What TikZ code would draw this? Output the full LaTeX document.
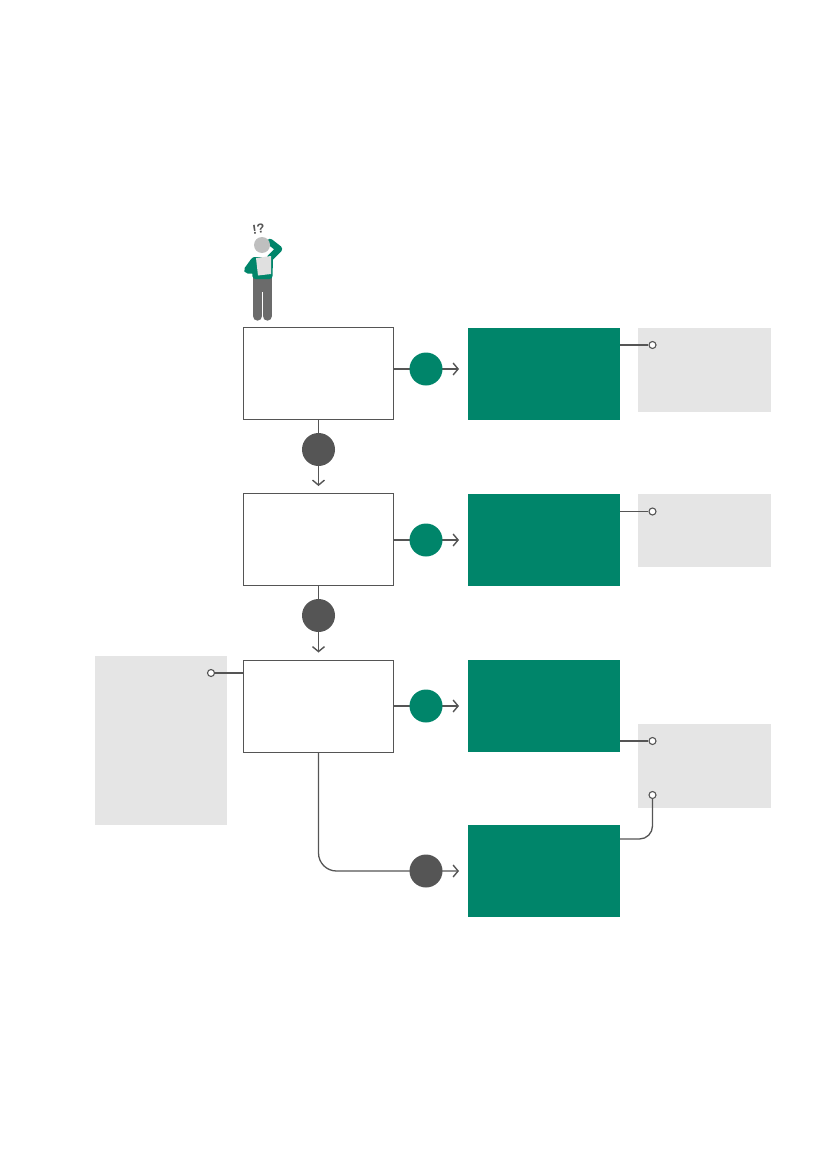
\documentclass[tikz,border=0pt]{standalone}
\usepackage{fontspec}
\setmainfont{Liberation Sans}
\usetikzlibrary{arrows.meta,positioning}
\definecolor{leafgreen}{HTML}{00856A}
\definecolor{slate}{HTML}{555555}
\definecolor{panelgrey}{HTML}{E5E5E5}
\tikzset{
	whitebox/.style={draw=slate,line width=1.4pt,fill=white,minimum width=150.5pt,minimum height=92pt,inner sep=0pt,outer sep=0pt},
	greenbox/.style={fill=leafgreen,minimum width=152pt,minimum height=92pt,inner sep=0pt,outer sep=0pt},
	greypanel/.style={fill=panelgrey,inner sep=0pt,outer sep=0pt},
	greenround/.style={circle,fill=leafgreen,minimum size=33pt,inner sep=0pt},
	darkround/.style={circle,fill=slate,minimum size=33pt,inner sep=0pt},
	dot/.style={circle,draw=slate,line width=1.1pt,fill=white,minimum size=7pt,inner sep=0pt},
	flow/.style={draw=slate,line width=1.3pt,-{Straight Barb[length=5pt,width=12pt,line width=1.4pt]}},
	link/.style={draw=slate,line width=1.3pt}
}
\begin{document}
\begin{tikzpicture}[x=1pt,y=-1pt]
	\useasboundingbox (0,0) rectangle (827,1169);

	% panels
	\node[greypanel,minimum width=133pt,minimum height=84pt] (noteA) at (704.5,369.5) {};
	\node[greypanel,minimum width=133pt,minimum height=73pt] (noteB) at (704.5,530) {};
	\node[greypanel,minimum width=133pt,minimum height=84pt] (noteC) at (704.5,765.5) {};
	\node[greypanel,minimum width=132pt,minimum height=169pt] (noteD) at (161,740.5) {};

	% boxes
	\node[whitebox] (askA) at (318.5,373.2) {};
	\node[whitebox] (askB) at (318.5,539.7) {};
	\node[whitebox] (askC) at (318.5,706.2) {};
	\node[greenbox] (endA) at (544,373.5) {};
	\node[greenbox] (endB) at (544,540) {};
	\node[greenbox] (endC) at (544,706) {};
	\node[greenbox] (endD) at (544,871) {};

	% free ends
	\coordinate (tipA) at (459,369);
	\coordinate (tipB) at (459,540);
	\coordinate (tipC) at (459,706);
	\coordinate (tipD) at (459,871);
	\coordinate (tipE) at (318.5,486);
	\coordinate (tipF) at (318.5,652.5);

	% connectors
	\draw[flow] (askA.east |- tipA) -- (tipA);
	\draw[flow] (askB.east |- tipB) -- (tipB);
	\draw[flow] (askC.east |- tipC) -- (tipC);
	\draw[flow] (askA.south) -- (tipE);
	\draw[flow] (askB.south) -- (tipF);
	\draw[flow,rounded corners=18pt] (askC.south) |- (tipD);

	% rounds
	\node[greenround] (yesA) at (426,369) {};
	\node[greenround] (yesB) at (426,540) {};
	\node[greenround] (yesC) at (426,706) {};
	\node[darkround] (yesD) at (426,871) {};
	\node[darkround] (noA) at (318.5,449.5) {};
	\node[darkround] (noB) at (318.5,615.5) {};

	% notes
	\node[dot] (dotA) at (652.5,345) {};
	\node[dot] (dotB) at (652.5,511.5) {};
	\node[dot] (dotC) at (652.5,741) {};
	\node[dot] (dotD) at (652.5,795) {};
	\node[dot] (dotE) at (211,673) {};
	\draw[link] (endA.east |- dotA) -- (dotA);
	\draw[link] (endB.east |- dotB) -- (dotB);
	\draw[link] (endC.east |- dotC) -- (dotC);
	\draw[link] (askC.west |- dotE) -- (dotE);
	\coordinate (bendD) at (620,839);
	\draw[link,rounded corners=13pt] (bendD) -| (dotD);

	% person
	\fill[black!58] (252.8,275) rectangle (272,292);
	\draw[line width=9.4pt,line cap=round,draw=black!58] (257.5,285) -- (257.5,316);
	\draw[line width=9.4pt,line cap=round,draw=black!58] (267.3,285) -- (267.3,316);
	\fill[leafgreen,rounded corners=3pt] (251.5,257) -- (273,257) -- (272.5,279) -- (252.5,279) -- cycle;
	\draw[leafgreen,line width=6.5pt,line cap=round,line join=round] (270,258) -- (279,249) -- (270,242);
	\draw[leafgreen,line width=7pt,line cap=round,line join=round] (254,261) -- (247.5,270) -- (261,270);
	\fill[black!12] (256,258) -- (271,256) -- (271,274) -- (258,275.5) -- cycle;
	\fill[black!25] (262,245) circle (8pt);
	\node[font=\bfseries\fontsize{13}{13}\selectfont,text=slate,rotate=8,inner sep=0pt] (puzzled) at (258.5,229) {!?};
\end{tikzpicture}
\end{document}
